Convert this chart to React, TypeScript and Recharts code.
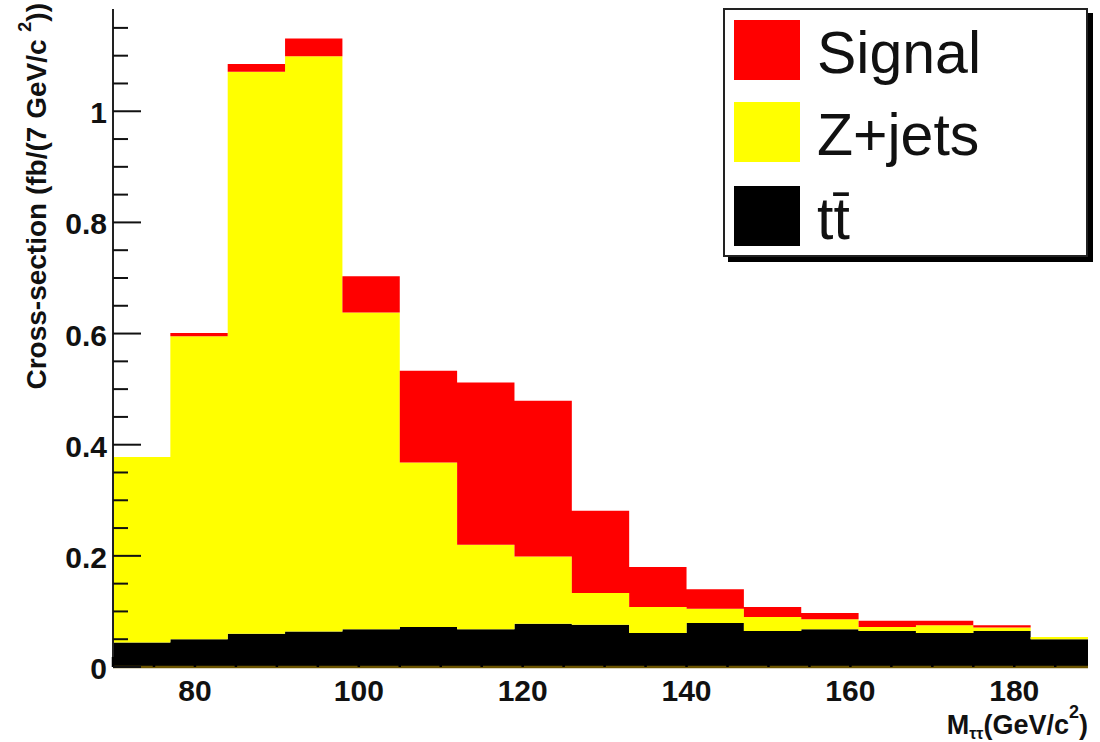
import React from 'react';
import { AreaChart, Area, XAxis, YAxis, Legend, Label } from 'recharts';

// 7 GeV bins from 70 to 189
const binLowEdges = [70, 77, 84, 91, 98, 105, 112, 119, 126, 133, 140, 147, 154, 161, 168, 175, 182];
const binUpperEdge = 189;

const ttbar  = [0.044, 0.050, 0.060, 0.064, 0.068, 0.072, 0.068, 0.078, 0.076, 0.061, 0.079, 0.065, 0.068, 0.065, 0.061, 0.065, 0.050];
const zjets  = [0.334, 0.545, 1.011, 1.035, 0.570, 0.296, 0.152, 0.121, 0.057, 0.047, 0.026, 0.025, 0.018, 0.007, 0.014, 0.006, 0.004];
const signal = [0.000, 0.006, 0.014, 0.032, 0.065, 0.165, 0.292, 0.280, 0.148, 0.072, 0.035, 0.018, 0.011, 0.011, 0.008, 0.004, 0.000];

const xTicks  = [70, 75, 80, 85, 90, 95, 100, 105, 110, 115, 120, 125, 130, 135, 140, 145, 150, 155, 160, 165, 170, 175, 180, 185];
const xLabels = [80, 100, 120, 140, 160, 180];
const yTicks  = [0, 0.05, 0.1, 0.15, 0.2, 0.25, 0.3, 0.35, 0.4, 0.45, 0.5, 0.55, 0.6, 0.65, 0.7, 0.75, 0.8, 0.85, 0.9, 0.95, 1, 1.05, 1.1, 1.15];
const yLabels = [0, 0.2, 0.4, 0.6, 0.8, 1];

const legendItems = [
  { name: 'Signal', color: '#ff0000' },
  { name: 'Z+jets', color: '#ffff00' },
  { name: 'tt̄',    color: '#000000' },
];

const FONT = '"Liberation Sans", Arial, Helvetica, sans-serif';
const Y_MAX = 1.184;

const rows = [...binLowEdges, binUpperEdge].map((x, i) => {
  const k = Math.min(i, binLowEdges.length - 1);
  return { x, tt: ttbar[k], zj: zjets[k], sig: signal[k] };
});

const isIn = (list: number[], v: number) => list.some((l) => Math.abs(l - v) < 1e-6);
const fmtY = (v: number) => String(Number(v.toFixed(2)));

function XTick({ x, y, payload }: any) {
  const v = payload.value;
  const major = isIn(xLabels, v);
  return (
    <g>
      <line x1={x} x2={x} y1={y} y2={y - (major ? 20 : 10)} stroke="#000" strokeWidth={2.5} />
      {major && (
        <text x={x} y={y + 34} textAnchor="middle" fontSize={30} fontWeight="bold" fontFamily={FONT} fill="#111">
          {v}
        </text>
      )}
    </g>
  );
}

function YTick({ x, y, payload }: any) {
  const v = payload.value;
  const major = isIn(yLabels, v);
  const ax = x + 6;
  return (
    <g>
      <line x1={ax} x2={ax + (major ? 28 : 15)} y1={y} y2={y} stroke="#111" strokeWidth={2} />
      {major && (
        <text x={x} y={y + 12} textAnchor="end" fontSize={30} fontWeight="bold" fontFamily={FONT} fill="#111">
          {fmtY(v)}
        </text>
      )}
    </g>
  );
}

function XTitle({ viewBox }: any) {
  const right = viewBox.x + viewBox.width;
  const base = viewBox.y + 67;
  return (
    <text x={right} y={base} textAnchor="end" fontSize={27} fontWeight="bold" fontFamily={FONT} fill="#111">
      M
      <tspan fontSize={16} dy={5}>ττ</tspan>
      <tspan dy={-5}>(GeV/c</tspan>
      <tspan fontSize={18} dy={-16}>2</tspan>
      <tspan dy={16}>)</tspan>
    </text>
  );
}

function YTitle({ viewBox }: any) {
  const top = viewBox.y - 6;
  return (
    <text
      transform="rotate(-90)"
      x={-top}
      y={46}
      textAnchor="end"
      fontSize={28}
      fontWeight="bold"
      fontFamily={FONT}
      fill="#111"
    >
      Cross-section (fb/(7 GeV/c{' '}
      <tspan fontSize={18} dy={-15}>2</tspan>
      <tspan dy={15}>))</tspan>
    </text>
  );
}

function LegendBox() {
  const tops = [10, 92, 176];
  return (
    <div
      style={{
        position: 'relative',
        width: 365,
        height: 249,
        boxSizing: 'border-box',
        border: '2px solid #222',
        boxShadow: '5px 5px 0 #000',
        background: '#fff',
        fontFamily: FONT,
      }}
    >
      {legendItems.map((it, i) => (
        <div
          key={it.name}
          style={{ position: 'absolute', left: 9, top: tops[i], display: 'flex', alignItems: 'center', height: 60 }}
        >
          <div style={{ width: 66, height: 60, background: it.color }} />
          <span style={{ fontSize: 59, marginLeft: 17, lineHeight: '60px', color: '#111', position: 'relative', top: 3 }}>
            {it.name}
          </span>
        </div>
      ))}
    </div>
  );
}

export default function App() {
  return (
    <div style={{ position: 'absolute', left: 0, top: 0, width: 1100, height: 742, background: '#fff' }}>
      <AreaChart width={1100} height={742} data={rows} margin={{ top: 9, right: 12, left: 0, bottom: 0 }}>
        <Area type="stepAfter" dataKey="tt" stackId="s" fill="#000000" fillOpacity={1} stroke="none" isAnimationActive={false} />
        <Area type="stepAfter" dataKey="zj" stackId="s" fill="#ffff00" fillOpacity={1} stroke="none" isAnimationActive={false} />
        <Area type="stepAfter" dataKey="sig" stackId="s" fill="#ff0000" fillOpacity={1} stroke="none" isAnimationActive={false} />
        <XAxis
          dataKey="x"
          type="number"
          domain={[70, 189]}
          allowDataOverflow
          ticks={xTicks}
          interval={0}
          tickSize={0}
          tickMargin={0}
          tickLine={false}
          axisLine={{ stroke: '#6b5400', strokeWidth: 2.5 }}
          height={75}
          tick={XTick}
          label={<Label content={XTitle} />}
        />
        <XAxis
          xAxisId="top"
          orientation="top"
          type="number"
          domain={[70, 189]}
          allowDataOverflow
          height={0}
          tick={false}
          tickLine={false}
          axisLine={{ stroke: '#222', strokeWidth: 2 }}
        />
        <YAxis
          type="number"
          domain={[0, Y_MAX]}
          allowDataOverflow
          ticks={yTicks}
          interval={0}
          width={113}
          tickSize={0}
          tickMargin={6}
          tickLine={false}
          axisLine={{ stroke: '#222', strokeWidth: 2 }}
          tick={YTick}
          label={<Label content={YTitle} />}
        />
        <YAxis
          yAxisId="right"
          orientation="right"
          type="number"
          domain={[0, Y_MAX]}
          allowDataOverflow
          width={0}
          tick={false}
          tickLine={false}
          axisLine={{ stroke: '#333', strokeWidth: 2 }}
        />
        <Legend
          layout="horizontal"
          verticalAlign="middle"
          align="center"
          content={LegendBox}
          wrapperStyle={{ position: 'absolute', left: 723, top: 8, width: 'auto' }}
        />
      </AreaChart>
    </div>
  );
}
